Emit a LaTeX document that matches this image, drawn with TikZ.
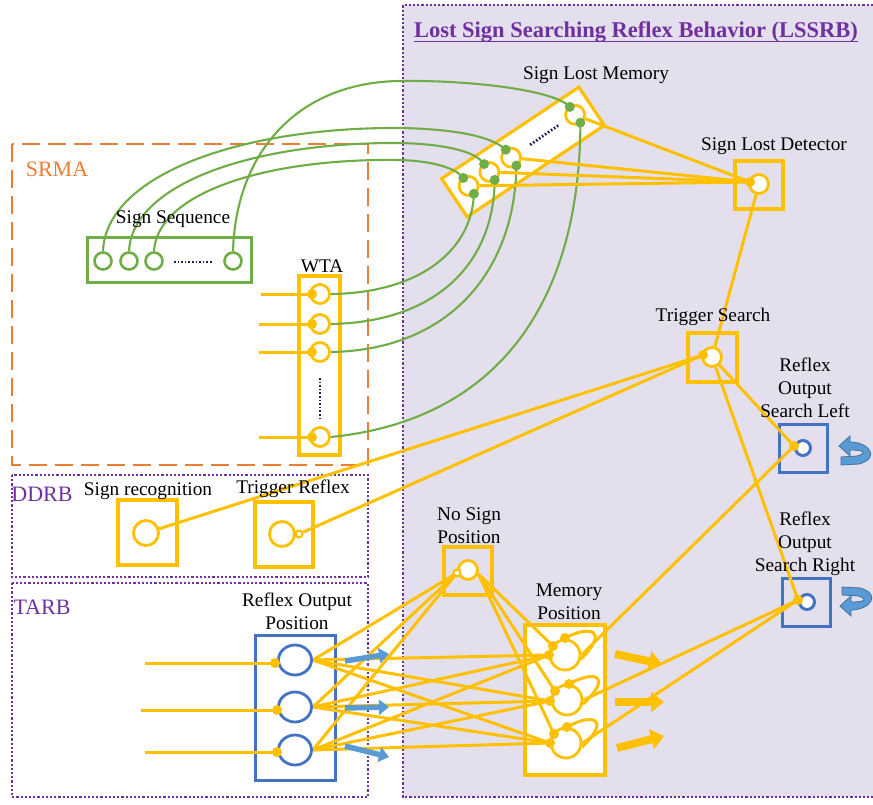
\documentclass[tikz,border=0pt]{standalone}
\usepackage{fontspec}
\setmainfont{Liberation Serif}
\usetikzlibrary{calc,arrows.meta,shapes.geometric}
\definecolor{yel}{HTML}{FFC000}
\definecolor{grn}{HTML}{70AD47}
\definecolor{blu}{HTML}{4472C4}
\definecolor{abl}{HTML}{5B9BD5}
\definecolor{abld}{HTML}{41719C}
\definecolor{org}{HTML}{ED7D31}
\definecolor{pur}{HTML}{7030A0}
\definecolor{lav}{HTML}{E4DFEC}
\definecolor{nav}{HTML}{1F1F5F}
\pgfdeclarelayer{bg}
\pgfdeclarelayer{lines}
\pgfsetlayers{bg,lines,main}
\tikzset{
 lbl/.style={font=\fontsize{19.3}{23}\selectfont, align=center, inner sep=0pt},
 sec/.style={font=\fontsize{22}{26}\selectfont, inner sep=0pt},
 ybox/.style={draw=yel, line width=3.2pt, inner sep=0pt},
 bbox/.style={draw=blu, line width=3pt, inner sep=0pt},
 gbox/.style={draw=grn, line width=3pt, inner sep=0pt},
 yneu/.style={circle, draw=yel, line width=2.8pt, fill=white, inner sep=0pt, minimum size=#1},
 yneu/.default=18pt,
 gneu/.style={circle, draw=grn, line width=2.6pt, fill=white, inner sep=0pt, minimum size=17pt},
 bneu/.style={circle, draw=blu, line width=3pt, fill=white, inner sep=0pt, minimum size=15pt},
 rneu/.style={ellipse, draw=blu, line width=2.8pt, fill=white, inner sep=0pt, minimum width=33pt, minimum height=30pt},
 ydot/.style={circle, fill=yel, inner sep=0pt, minimum size=10pt},
 gdot/.style={circle, fill=grn, inner sep=0pt, minimum size=10pt},
 yl/.style={draw=yel, line width=3pt},
 gl/.style={draw=grn, line width=2.1pt},
 navdots/.style={draw=nav, line width=2.8pt, dash pattern=on 1.6pt off 2pt},
 purdot/.style={draw=pur, line width=2.4pt, dash pattern=on 2.2pt off 2pt},
 orgdash/.style={draw=org, line width=2.4pt, dash pattern=on 18pt off 8pt},
 yarrow/.style={draw=yel, line width=8pt, -{Triangle[width=20pt,length=13pt]}},
 barrow/.style={draw=abl, line width=5.5pt, -{Triangle[width=15pt,length=10pt]}},
 uturn/.style={fill=abl, draw=abld, line width=0.8pt},
}
\begin{document}
\begin{tikzpicture}[x=1pt,y=-1pt]
\useasboundingbox (0,0) rectangle (873,805);

% ---------- neurons and dots (main layer)
\node[gneu] (ss1) at (103,261) {};
\node[gneu] (ss2) at (129,261) {};
\node[gneu] (ss3) at (154,261) {};
\node[gneu] (ss4) at (233,261) {};

\node[yneu=19pt] (w1) at (320,294) {};
\node[yneu=19pt] (w2) at (320,324) {};
\node[yneu=19pt] (w3) at (320,352) {};
\node[yneu=19pt] (w4) at (320,437) {};
\node[ydot] (w1d) at (312,294) {};
\node[ydot] (w2d) at (312,324) {};
\node[ydot] (w3d) at (312,352) {};
\node[ydot] (w4d) at (312,437) {};
\coordinate (w1i) at (261,294);
\coordinate (w2i) at (259,324);
\coordinate (w3i) at (259,352);
\coordinate (w4i) at (259,437);

\node[yneu=19pt] (s1) at (468.6,185.9) {};
\node[yneu=19pt] (s2) at (489.4,172.0) {};
\node[yneu=19pt] (s3) at (511.1,157.6) {};
\node[yneu=19pt] (s4) at (575.1,114.8) {};
\node[gdot] (s1u) at (463.3,178.0) {};
\node[gdot] (s2u) at (484.1,164.1) {};
\node[gdot] (s3u) at (505.8,149.7) {};
\node[gdot] (s4u) at (569.8,106.9) {};
\node[gdot] (s1l) at (473.9,193.8) {};
\node[gdot] (s2l) at (494.7,179.9) {};
\node[gdot] (s3l) at (516.4,165.5) {};
\node[gdot] (s4l) at (580.4,122.7) {};

\node[yneu=19pt] (sld) at (759,184) {};
\node[ydot] (sldd) at (750,182) {};
\node[yneu=19pt] (ts) at (712,357) {};
\node[ydot] (tsd) at (703,355) {};
\node[bneu] (rosl) at (803,448) {};
\node[ydot] (rosld) at (794,446) {};
\node[bneu] (rosr) at (807,602) {};
\node[ydot] (rosrd) at (798,600) {};

\node[yneu=25pt] (sr) at (146,533) {};
\node[yneu=25pt] (tr) at (282,534) {};
\node[yneu=7pt, line width=2.2pt] (trs) at (299,534) {};

\node[yneu=19pt] (nsp) at (468,570) {};
\node[yneu=7pt, line width=2.2pt] (nsps) at (457,573) {};

\node[yneu=30pt] (m1) at (565,655) {};
\node[yneu=30pt] (m2) at (567,700) {};
\node[yneu=30pt] (m3) at (566,743) {};
\node[ydot] (m1t) at (565,638) {};
\node[ydot] (m2t) at (569,684) {};
\node[ydot] (m3t) at (567,727) {};
\node[ydot] (m1a) at (553,646) {};
\node[ydot] (m2a) at (555,691) {};
\node[ydot] (m3a) at (554,734) {};
\node[ydot] (m1b) at (549,655) {};
\node[ydot] (m2b) at (550,701) {};
\node[ydot] (m3b) at (550,743) {};

\node[rneu] (r1) at (295,660) {};
\node[rneu] (r2) at (295,707) {};
\node[rneu] (r3) at (295,750) {};
\node[ydot] (r1d) at (275,663) {};
\node[ydot] (r2d) at (277,710) {};
\node[ydot] (r3d) at (277,752) {};
\coordinate (r1i) at (145,663);
\coordinate (r2i) at (141,710);
\coordinate (r3i) at (145,752);

% ---------- background: regions and boxes
\begin{pgfonlayer}{bg}
\fill[white] (0,0) rectangle (873,805);
\fill[lav] (403,5) rectangle (873,797);
\draw[purdot] (873,5) -- (403,5) -- (403,797) -- (873,797);
\draw[orgdash] (12,144) rectangle (368,465);
\draw[purdot] (12,475) rectangle (368,577);
\draw[purdot] (12,583) rectangle (368,797);

\node[gbox, minimum width=164pt, minimum height=44pt] (ssbox) at (169,260) {};
\node[ybox, minimum width=41pt, minimum height=179pt] (wtabox) at (319.5,365.5) {};
\node[ybox, fill=white, minimum width=165pt, minimum height=46pt, rotate=33.7] (slmbox) at (523,152) {};
\node[ybox, minimum width=48pt, minimum height=48pt] (sldbox) at (759,185) {};
\node[ybox, minimum width=49pt, minimum height=49pt] (tsbox) at (712.5,357.5) {};
\node[bbox, minimum width=48pt, minimum height=48pt] (roslbox) at (803,448) {};
\node[bbox, minimum width=48pt, minimum height=48pt] (rosrbox) at (806,602) {};
\node[ybox, minimum width=59pt, minimum height=65pt] (srbox) at (147.5,532.5) {};
\node[ybox, minimum width=58pt, minimum height=65pt] (trbox) at (284,534.5) {};
\node[ybox, minimum width=48pt, minimum height=48pt] (nspbox) at (468,571) {};
\node[ybox, fill=white, minimum width=80pt, minimum height=150pt] (membox) at (565,700) {};
\node[bbox, fill=white, minimum width=80pt, minimum height=145pt] (ropbox) at (295,707.5) {};
\end{pgfonlayer}

% ---------- connectors
\begin{pgfonlayer}{lines}
% WTA inputs
\draw[yl] (w1i) -- (w1d.center);
\draw[yl] (w2i) -- (w2d.center);
\draw[yl] (w3i) -- (w3d.center);
\draw[yl] (w4i) -- (w4d.center);
% sign sequence -> sign lost memory
\draw[gl] (ss1.north) .. controls (106,175) and (240,127) .. (400,128) .. controls (450,129) and (490,135) .. (s3u.center);
\draw[gl] (ss2.north) .. controls (132,185) and (250,142) .. (400,143) .. controls (440,144) and (475,150) .. (s2u.center);
\draw[gl] (ss3.north) .. controls (157,195) and (260,158) .. (400,160) .. controls (430,161) and (455,167) .. (s1u.center);
\draw[gl] (ss4.north) .. controls (236,150) and (300,82) .. (400,81) .. controls (470,80) and (555,90) .. (s4u.center);
% WTA -> sign lost memory
\draw[gl] (w1.east) .. controls (420,293) and (472,250) .. (s1l.center);
\draw[gl] (w2.east) .. controls (440,322) and (494,260) .. (s2l.center);
\draw[gl] (w3.east) .. controls (450,350) and (515,270) .. (s3l.center);
\draw[gl] (w4.east) .. controls (500,420) and (580,300) .. (s4l.center);
% sign lost memory -> detector
\draw[yl] (s1) -- (sldd.center);
\draw[yl] (s2) -- (sldd.center);
\draw[yl] (s3) -- (sldd.center);
\draw[yl] (s4) -- (sldd.center);
\draw[yl] (sld) -- (ts);
% DDRB -> trigger search
\draw[yl] (sr) -- (tsd.center);
\draw[yl] (trs) -- (tsd.center);
\draw[yl] (ts) -- (rosld.center);
\draw[yl] (ts) -- (rosrd.center);
% memory -> reflex outputs
\draw[yl] (m1.east) -- (rosld.center);
\draw[yl] (m2.east) -- (rosrd.center);
\draw[yl] (m3.east) -- (rosrd.center);
% memory self loops
\draw[yl] (m1t.center) .. controls (590,625) and (610,630) .. (m1.-15);
\draw[yl] (m2t.center) .. controls (594,670) and (614,675) .. (m2.-15);
\draw[yl] (m3t.center) .. controls (592,713) and (612,718) .. (m3.-15);
% reflex output position inputs
\draw[yl] (r1i) -- (r1d.center);
\draw[yl] (r2i) -- (r2d.center);
\draw[yl] (r3i) -- (r3d.center);
% reflex output position -> no sign / memory
\foreach \r in {r1,r2,r3}{
  \draw[yl] (\r.east) -- (nsps.center);
  \draw[yl] (\r.east) -- (m1b.center);
  \draw[yl] (\r.east) -- (m2b.center);
  \draw[yl] (\r.east) -- (m3b.center);
}
% no sign -> memory
\draw[yl] (nsp.-20) -- (m1a.center);
\draw[yl] (nsp.-20) -- (m2a.center);
\draw[yl] (nsp.-20) -- (m3a.center);
\end{pgfonlayer}

% ---------- dotted ellipses
\draw[navdots] (174,262) -- (213,262);
\draw[navdots] (320,378) -- (320,420);
\draw[navdots] (530.2,144.8) -- (559.2,124.8);

% ---------- block arrows
\draw[yarrow] (615,654) -- (662,664);
\draw[yarrow] (615,702) -- (664,702);
\draw[yarrow] (617,748) -- (664,736);
\draw[barrow] (345,661) -- (389,654);
\draw[barrow] (345,708) -- (389,707);
\draw[barrow] (345,746) -- (389,757);

% ---------- U-turn arrows
\begin{scope}[shift={(839,446)}]
\filldraw[uturn] (0,0) -- (11,-10) -- (11,-4) .. controls (30,-4) and (42,12) .. (20,18)
  -- (2,19) -- (2,11) -- (18,10) .. controls (28,7) and (26,4) .. (11,4)
  -- (11,10) -- cycle;
\end{scope}
\begin{scope}[shift={(840,606)}, yscale=-1]
\filldraw[uturn] (0,0) -- (11,-10) -- (11,-4) .. controls (30,-4) and (42,12) .. (20,18)
  -- (2,19) -- (2,11) -- (18,10) .. controls (28,7) and (26,4) .. (11,4)
  -- (11,10) -- cycle;
\end{scope}

% ---------- labels
\node[font=\fontsize{22.5}{26}\selectfont\bfseries, text=pur, inner sep=0pt, anchor=base] (ttl) at (636,38) {Lost Sign Searching Reflex Behavior (LSSRB)};
\draw[pur, line width=1.5pt] ([yshift=-3.5pt]ttl.base west) -- ([yshift=-3.5pt]ttl.base east);
\node[lbl] (lslm) at (596,75) {Sign Lost Memory};
\node[lbl] (lsld) at (774,146) {Sign Lost Detector};
\node[sec, text=org] (lsrma) at (57,169) {SRMA};
\node[lbl] (lss) at (173,219) {Sign Sequence};
\node[lbl] (lwta) at (322,266) {WTA};
\node[lbl] (lts) at (713,317) {Trigger Search};
\node[lbl] (lrosl) at (805,388) {Reflex\\Output\\Search Left};
\node[sec, text=pur] (lddrb) at (42,494) {DDRB};
\node[lbl] (lsr) at (148,491) {Sign recognition};
\node[lbl] (ltr) at (293,489) {Trigger Reflex};
\node[lbl] (lnsp) at (469,526) {No Sign\\Position};
\node[lbl] (lrosr) at (805,544) {Reflex\\Output\\Search Right};
\node[sec, text=pur] (ltarb) at (42,607) {TARB};
\node[lbl] (lrop) at (297,611) {Reflex Output\\Position};
\node[lbl] (lmem) at (569,602) {Memory\\Position};
\end{tikzpicture}
\end{document}
